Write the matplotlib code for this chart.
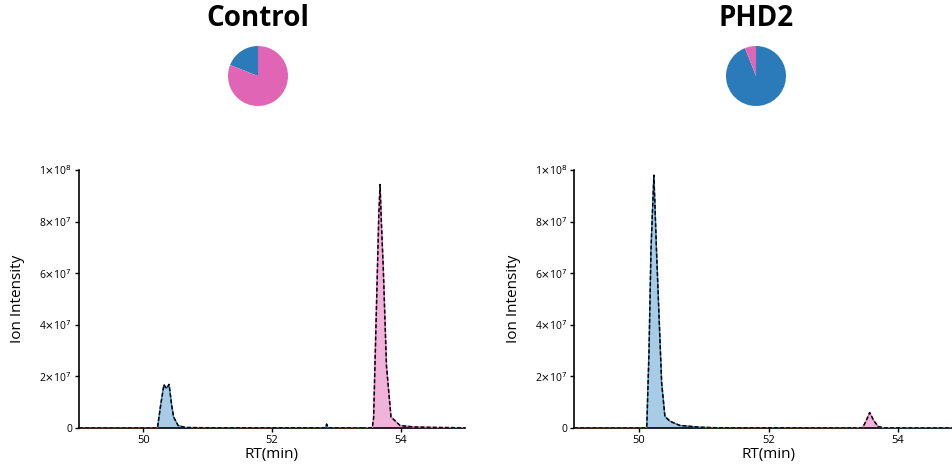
import matplotlib.pyplot as plt
from matplotlib.ticker import FixedLocator

plt.rcParams["font.family"] = ["Open Sans", "DejaVu Sans"]

# Control chromatogram
ctrl_blue_rt = [49.0, 50.15, 50.22, 50.27, 50.32, 50.36, 50.40, 50.44, 50.47, 50.54, 50.65, 51.0, 52.0, 52.83, 52.85, 52.87, 53.4]
ctrl_blue_int = [0, 0, 0.1e6, 9e6, 16.8e6, 15.3e6, 16.9e6, 9e6, 4.3e6, 1.0e6, 0.2e6, 0.1e6, 0.1e6, 0.1e6, 1.5e6, 0.1e6, 0]
ctrl_pink_rt = [53.4, 53.56, 53.58, 53.62, 53.66, 53.68, 53.70, 53.73, 53.78, 53.85, 53.99, 54.2, 54.6, 55.0]
ctrl_pink_int = [0, 0.1e6, 4e6, 43e6, 82e6, 94.4e6, 80e6, 62e6, 24e6, 4.3e6, 1.0e6, 0.4e6, 0.2e6, 0.1e6]

# PHD2 chromatogram
phd_blue_rt = [49.0, 50.08, 50.12, 50.155, 50.185, 50.23, 50.27, 50.31, 50.35, 50.40, 50.48, 50.63, 50.94, 51.2, 52.0, 53.3]
phd_blue_int = [0, 0, 0.3e6, 30e6, 69e6, 98e6, 69e6, 43e6, 17.4e6, 4.5e6, 2.6e6, 1.0e6, 0.3e6, 0.1e6, 0.1e6, 0]
phd_pink_rt = [53.3, 53.45, 53.50, 53.56, 53.62, 53.69, 53.77, 54.2, 55.0]
phd_pink_int = [0, 0.1e6, 2.5e6, 6.0e6, 3.0e6, 0.6e6, 0.1e6, 0.05e6, 0]

# pie fractions (blue, pink)
ctrl_pie = [0.19, 0.81]
phd_pie = [0.94, 0.06]

titles = ["Control", "PHD2"]
y_ticks = [0, 2e7, 4e7, 6e7, 8e7, 1e8]
y_ticklabels = ["0", r"2$\times$10$^7$", r"4$\times$10$^7$", r"6$\times$10$^7$",
                r"8$\times$10$^7$", r"1$\times$10$^8$"]
x_ticks = [50, 52, 54]

BLUE = "#2b7bba"
PINK = "#e165b5"
BLUE_FILL = "#a9cce6"
PINK_FILL = "#f0b3da"

fig = plt.figure(figsize=(9.53, 4.75), dpi=100)

panels = [
    (0.0829, 0.405, ctrl_blue_rt, ctrl_blue_int, ctrl_pink_rt, ctrl_pink_int, ctrl_pie, 258),
    (0.6025, 0.408, phd_blue_rt, phd_blue_int, phd_pink_rt, phd_pink_int, phd_pie, 756),
]

for i, (left, width, brt, bint, prt, pint, pie, cx) in enumerate(panels):
    ax = fig.add_axes([left, 0.0989, width, 0.543])
    for rt, inten, fc, ec in [(brt, bint, BLUE_FILL, BLUE), (prt, pint, PINK_FILL, PINK)]:
        ax.fill_between(rt, 0, inten, color=fc, lw=0, zorder=2)
        ax.plot(rt, inten, color=ec, lw=1.0, zorder=3)
        ax.plot(rt, inten, color="black", lw=1.1, ls=(0, (2.5, 1.5)), zorder=4)
    ax.set_xlim(49, 55)
    ax.set_ylim(0, 1e8)
    ax.spines["top"].set_visible(False)
    ax.spines["right"].set_visible(False)
    ax.spines["left"].set_linewidth(1.2)
    ax.spines["bottom"].set_linewidth(1.2)
    ax.yaxis.set_major_locator(FixedLocator(y_ticks))
    ax.set_yticklabels(y_ticklabels, fontsize=7.5)
    ax.xaxis.set_major_locator(FixedLocator(x_ticks))
    ax.tick_params(axis="both", length=3, width=1.0, labelsize=8, pad=2)
    for lab in ax.get_yticklabels():
        lab.set_fontsize(7.5)
    ax.set_xlabel("RT(min)", fontsize=11, labelpad=1)
    ax.set_ylabel("Ion Intensity", fontsize=11, labelpad=10)

    fig.text(cx / 953, 1 - 18 / 475, titles[i], ha="center", va="center",
             fontsize=20, fontweight="bold")
    pax = fig.add_axes([(cx - 30) / 953, 1 - 106 / 475, 60 / 953, 60 / 475])
    if i == 0:
        pax.pie(pie, colors=[BLUE, PINK], startangle=90, counterclock=True,
                wedgeprops=dict(linewidth=0))
    else:
        pax.pie(pie, colors=[BLUE, PINK], startangle=90 + 360 * pie[1], counterclock=True,
                wedgeprops=dict(linewidth=0))
    pax.set_xlim(-1, 1)
    pax.set_ylim(-1, 1)
    pax.set_aspect("equal")

fig.savefig("out.png", dpi=100)
